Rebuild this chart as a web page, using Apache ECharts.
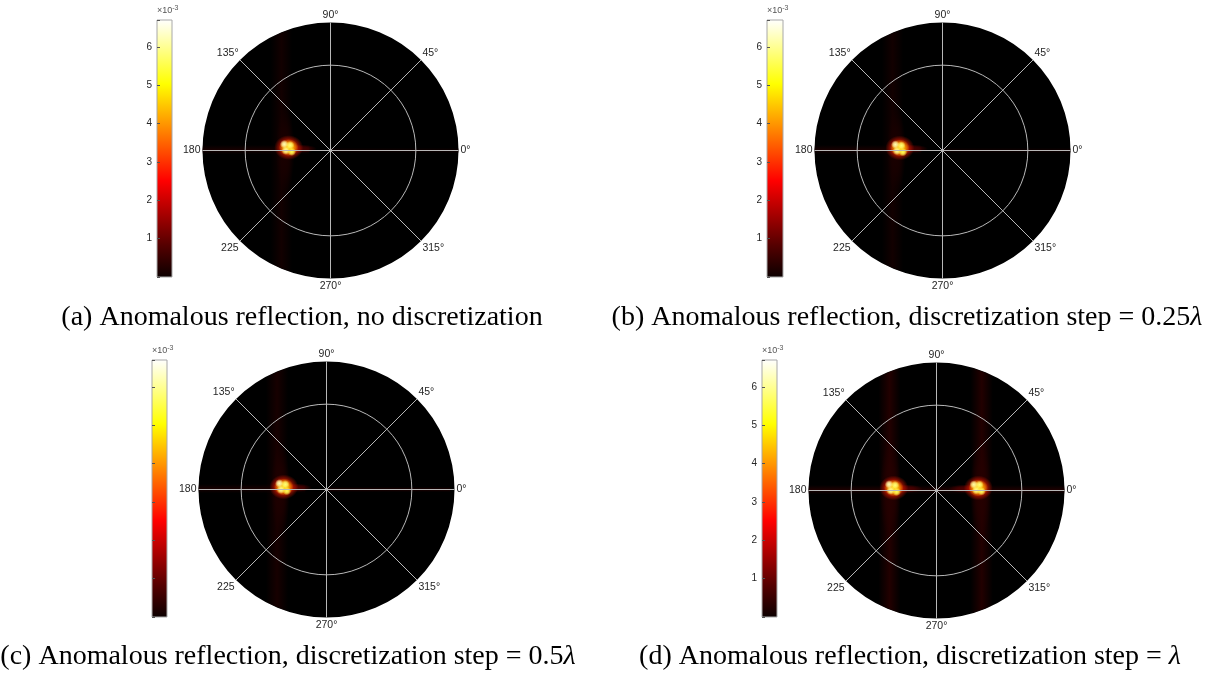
<!DOCTYPE html>
<html>
<head>
<meta charset="utf-8">
<script src="https://cdn.jsdelivr.net/npm/echarts@6/dist/echarts.min.js"></script>
<style>
  html, body { margin: 0; padding: 0; background: #fff; }
  #chart { width: 1205px; height: 675px; }
</style>
</head>
<body>
<div id="chart"></div>
<script>
// ---- data (field magnitude in units of 1e-3) ----
const colorMax = 6.7;
const colorTicks = [1, 2, 3, 4, 5, 6];
const angleTicks = [0, 45, 90, 135, 180, 225, 270, 315];
const angleLabels = ['0°', '45°', '90°', '135°', '180', '225', '270°', '315°'];
const radiusMax = 1.5;
const ringRadius = 1;

const captions = [
  '(a) Anomalous reflection, no discretization',
  '(b) Anomalous reflection, discretization step = {m|0.25}{l|λ}',
  '(c) Anomalous reflection, discretization step = {m|0.5}{l|λ}',
  '(d) Anomalous reflection, discretization step = {l|λ}'
];

// Beam spots: [value, x, y, spreadX, spreadY]
const spotsA = [
  [0.18, -0.53, 0.00, 0.11, 0.5],
  [0.7, -0.36, 0.02, 0.20, 0.05],
  [2.8, -0.49, 0.035, 0.17, 0.145],
  [4.6, -0.49, 0.035, 0.115, 0.1],
  [6.2, -0.543, 0.074, 0.05, 0.05],
  [5.8, -0.472, 0.062, 0.05, 0.05],
  [6.0, -0.524, 0.000, 0.05, 0.05],
  [5.6, -0.454, -0.015, 0.05, 0.05]
];
const spotsB = [
  [0.18, -0.54, 0.00, 0.11, 0.5],
  [0.7, -0.37, 0.02, 0.20, 0.05],
  [2.8, -0.50, 0.03, 0.17, 0.145],
  [4.6, -0.50, 0.03, 0.115, 0.1],
  [6.2, -0.553, 0.070, 0.05, 0.05],
  [5.8, -0.482, 0.058, 0.05, 0.05],
  [6.0, -0.534, -0.004, 0.05, 0.05],
  [5.6, -0.464, -0.019, 0.05, 0.05]
];
const spotsC = [
  [0.24, -0.54, 0.00, 0.11, 0.55],
  [0.8, -0.37, 0.02, 0.20, 0.05],
  [2.8, -0.50, 0.03, 0.17, 0.145],
  [4.6, -0.50, 0.03, 0.115, 0.1],
  [6.2, -0.553, 0.072, 0.05, 0.05],
  [5.8, -0.482, 0.060, 0.05, 0.05],
  [6.0, -0.534, -0.002, 0.05, 0.05],
  [5.6, -0.464, -0.017, 0.05, 0.05]
];
const spotsD = [
  [0.3, -0.54, 0.00, 0.12, 0.6],
  [0.3, 0.52, 0.00, 0.12, 0.6],
  [0.8, -0.36, 0.02, 0.20, 0.05],
  [0.8, 0.34, 0.02, 0.20, 0.05],
  [2.8, -0.50, 0.03, 0.17, 0.145],
  [2.8, 0.49, 0.03, 0.17, 0.145],
  [4.6, -0.50, 0.03, 0.115, 0.1],
  [4.6, 0.49, 0.03, 0.115, 0.1],
  [6.2, -0.556, 0.072, 0.05, 0.05],
  [5.8, -0.485, 0.062, 0.05, 0.05],
  [6.0, -0.537, 0.000, 0.05, 0.05],
  [5.6, -0.467, -0.015, 0.05, 0.05],
  [6.1, 0.437, 0.070, 0.05, 0.05],
  [5.8, 0.504, 0.068, 0.05, 0.05],
  [5.9, 0.465, 0.004, 0.05, 0.05],
  [5.7, 0.527, -0.008, 0.05, 0.05]
];

// Side-lobe bands: [value, xFrom, xTo, yFrom, yTo]
const bandsA = [
  [0.08, -0.70, -0.45, -1.5, 1.5],
  [0.12, -1.5, -0.25, -0.045, 0.065],
  [0.03, 0.0, 1.5, -0.035, 0.035]
];
const bandsB = [
  [0.08, -0.71, -0.46, -1.5, 1.5],
  [0.12, -1.5, -0.25, -0.045, 0.065],
  [0.05, 0.0, 1.5, -0.035, 0.035]
];
const bandsC = [
  [0.14, -0.71, -0.45, -1.5, 1.5],
  [0.12, -1.5, -0.25, -0.045, 0.065],
  [0.20, 0.02, 1.45, -0.03, 0.03]
];
const bandsD = [
  [0.26, -0.68, -0.42, -1.5, 1.5],
  [0.26, 0.40, 0.66, -1.5, 1.5],
  [0.18, -1.5, 1.5, -0.045, 0.065]
];

// MATLAB-style "hot" colour map, evenly spaced from 0 to colorMax
const hotColors = ['#0b0000', '#550000', '#aa0000', '#ff0000', '#ff5500',
                   '#ffaa00', '#ffff00', '#ffff80', '#ffffff'];

// ---- layout ----
const panels = [
  { cx: 330.5, cy: 150.5, r: 128, cb: [157, 20, 15, 257], cbLabels: true,  cap: [302, 318], spots: spotsA, bands: bandsA },
  { cx: 942.5, cy: 150.5, r: 128, cb: [767, 20, 16, 257], cbLabels: true,  cap: [907, 318], spots: spotsB, bands: bandsB },
  { cx: 326.5, cy: 489.5, r: 128, cb: [152, 360, 15, 257], cbLabels: false, cap: [288, 657], spots: spotsC, bands: bandsC },
  { cx: 936.5, cy: 490.5, r: 128, cb: [762, 360, 15, 257], cbLabels: true,  cap: [910, 657], spots: spotsD, bands: bandsD }
];

function withAlpha(col, a) {
  let r, g, b;
  if (col[0] === '#') {
    const h = col.length === 4 ? col.replace(/#(.)(.)(.)/, '#$1$1$2$2$3$3') : col;
    r = parseInt(h.substr(1, 2), 16); g = parseInt(h.substr(3, 2), 16); b = parseInt(h.substr(5, 2), 16);
  } else {
    const m = col.match(/[\d.]+/g).map(Number);
    r = m[0]; g = m[1]; b = m[2];
  }
  return 'rgba(' + Math.round(r) + ',' + Math.round(g) + ',' + Math.round(b) + ',' + a + ')';
}

function renderBand(params, api) {
  const x0 = api.value(1), x1 = api.value(2), y0 = api.value(3), y1 = api.value(4);
  const lim = t => Math.sqrt(Math.max(radiusMax * radiusMax - t * t, 0));
  const vertical = (x1 - x0) < (y1 - y0);
  let pts;
  if (vertical) {
    const la = lim(x0), lb = lim(x1);
    pts = [[x0, Math.max(y0, -la)], [x0, Math.min(y1, la)], [x1, Math.min(y1, lb)], [x1, Math.max(y0, -lb)]];
  } else {
    const la = lim(y0), lb = lim(y1);
    pts = [[Math.max(x0, -la), y0], [Math.min(x1, la), y0], [Math.min(x1, lb), y1], [Math.max(x0, -lb), y1]];
  }
  const col = api.visual('color');
  const stops = [
    { offset: 0, color: withAlpha(col, 0) },
    { offset: 0.5, color: withAlpha(col, 1) },
    { offset: 1, color: withAlpha(col, 0) }
  ];
  const fill = vertical
    ? new echarts.graphic.LinearGradient(0, 0, 1, 0, stops)
    : new echarts.graphic.LinearGradient(0, 0, 0, 1, stops);
  return { type: 'polygon', shape: { points: pts.map(p => api.coord(p)) }, style: { fill: fill } };
}

function renderSpot(params, api) {
  const c = api.coord([api.value(1), api.value(2)]);
  const s = api.size([api.value(3), api.value(4)]);
  const rx = Math.abs(s[0]), ry = Math.abs(s[1]);
  const col = api.visual('color');
  return {
    type: 'circle',
    x: c[0], y: c[1],
    scaleX: rx / ry, scaleY: 1,
    shape: { cx: 0, cy: 0, r: ry },
    style: {
      fill: new echarts.graphic.RadialGradient(0.5, 0.5, 0.5, [
        { offset: 0, color: withAlpha(col, 1) },
        { offset: 0.5, color: withAlpha(col, 0.7) },
        { offset: 1, color: withAlpha(col, 0) }
      ])
    }
  };
}

const hotStops = hotColors.map((c, i) => ({ offset: i / (hotColors.length - 1), color: c }));

const grid = [], xAxis = [], yAxis = [], polar = [], angleAxis = [], radiusAxis = [], series = [], graphic = [];
const gridLine = '#b8b8b8';
const labelFont = { fontFamily: 'Liberation Sans', fontSize: 10.5, color: '#262626' };

panels.forEach((p, i) => {
  // data plane (cartesian, same extent as the polar radius)
  grid.push({ left: p.cx - p.r, top: p.cy - p.r, width: 2 * p.r, height: 2 * p.r });
  xAxis.push({ gridIndex: 2 * i, type: 'value', min: -radiusMax, max: radiusMax, show: false });
  yAxis.push({ gridIndex: 2 * i, type: 'value', min: -radiusMax, max: radiusMax, show: false });

  // colour bar
  grid.push({
    left: p.cb[0], top: p.cb[1], width: p.cb[2], height: p.cb[3],
    show: true, borderColor: '#a8a8a8', borderWidth: 1,
    backgroundColor: new echarts.graphic.LinearGradient(0, 1, 0, 0, hotStops)
  });
  xAxis.push({ gridIndex: 2 * i + 1, type: 'value', show: false });
  yAxis.push({
    gridIndex: 2 * i + 1, type: 'value', min: 0, max: colorMax, interval: 1, position: 'left',
    axisLine: { show: false },
    axisTick: { show: true, inside: true, length: 3, lineStyle: { color: '#555', width: 1 } },
    splitLine: { show: false },
    axisLabel: {
      show: p.cbLabels, margin: 5, fontFamily: 'Liberation Sans', fontSize: 10, color: '#262626',
      formatter: v => (colorTicks.indexOf(v) >= 0 ? String(v) : '')
    },
    name: '{a|×10}{s|-3}', nameLocation: 'end', nameGap: 3,
    nameTextStyle: {
      align: 'left', verticalAlign: 'bottom',
      rich: {
        a: { fontFamily: 'Liberation Sans', fontSize: 9, color: '#555' },
        s: { fontFamily: 'Liberation Sans', fontSize: 7, color: '#555', verticalAlign: 'top', padding: [0, 0, 5, 0] }
      }
    }
  });

  // polar: black disk underneath
  polar.push({ center: [p.cx, p.cy], radius: p.r });
  angleAxis.push({
    polarIndex: 2 * i, type: 'value', min: 0, max: 360, interval: 45, startAngle: 0, clockwise: false, z: 0,
    axisLine: { show: false }, axisTick: { show: false }, axisLabel: { show: false }, splitLine: { show: false },
    splitArea: { show: true, areaStyle: { color: ['#000'] } }
  });
  radiusAxis.push({ polarIndex: 2 * i, type: 'value', min: 0, max: radiusMax, show: false });

  // polar: grid lines and angle labels on top
  polar.push({ center: [p.cx, p.cy], radius: p.r });
  angleAxis.push({
    polarIndex: 2 * i + 1, type: 'value', min: 0, max: 360, interval: 45, startAngle: 0, clockwise: false, z: 5,
    axisLine: { show: false }, axisTick: { show: false },
    axisLabel: Object.assign({
      margin: 2,
      formatter: v => { const k = angleTicks.indexOf(v); return k >= 0 ? angleLabels[k] : ''; }
    }, labelFont),
    splitLine: { show: true, lineStyle: { color: gridLine, width: 1 } },
    splitArea: { show: false }
  });
  radiusAxis.push({
    polarIndex: 2 * i + 1, type: 'value', min: 0, max: radiusMax, interval: ringRadius, z: 5,
    axisLine: { show: false }, axisTick: { show: false }, axisLabel: { show: false },
    splitLine: { show: true, lineStyle: { color: ['rgba(0,0,0,0)', gridLine, 'rgba(0,0,0,0)'], width: 1 } }
  });

  series.push({
    type: 'custom', coordinateSystem: 'cartesian2d', xAxisIndex: 2 * i, yAxisIndex: 2 * i,
    encode: { x: [1, 2], y: [3, 4] }, data: p.bands, renderItem: renderBand, silent: true, z: 2
  });
  series.push({
    type: 'custom', coordinateSystem: 'cartesian2d', xAxisIndex: 2 * i, yAxisIndex: 2 * i,
    encode: { x: 1, y: 2 }, data: p.spots, renderItem: renderSpot, silent: true, z: 3
  });

  graphic.push({
    type: 'text', x: p.cap[0], y: p.cap[1], silent: true,
    style: {
      text: captions[i], fontFamily: 'Liberation Serif', fontSize: 28, fill: '#000',
      align: 'center', verticalAlign: 'middle',
      rich: {
        m: { fontFamily: 'Liberation Serif', fontSize: 28, color: '#000' },
        l: { fontFamily: 'Liberation Serif', fontSize: 28, fontStyle: 'italic', color: '#000' }
      }
    }
  });
});

const chart = echarts.init(document.getElementById('chart'), null, { renderer: 'canvas' });
chart.setOption({
  backgroundColor: '#fff',
  animation: false,
  grid, xAxis, yAxis, polar, angleAxis, radiusAxis, series, graphic,
  visualMap: {
    type: 'continuous', show: false, min: 0, max: colorMax, dimension: 0,
    seriesIndex: series.map((s, k) => k),
    inRange: { color: hotColors }
  }
});
</script>
</body>
</html>
